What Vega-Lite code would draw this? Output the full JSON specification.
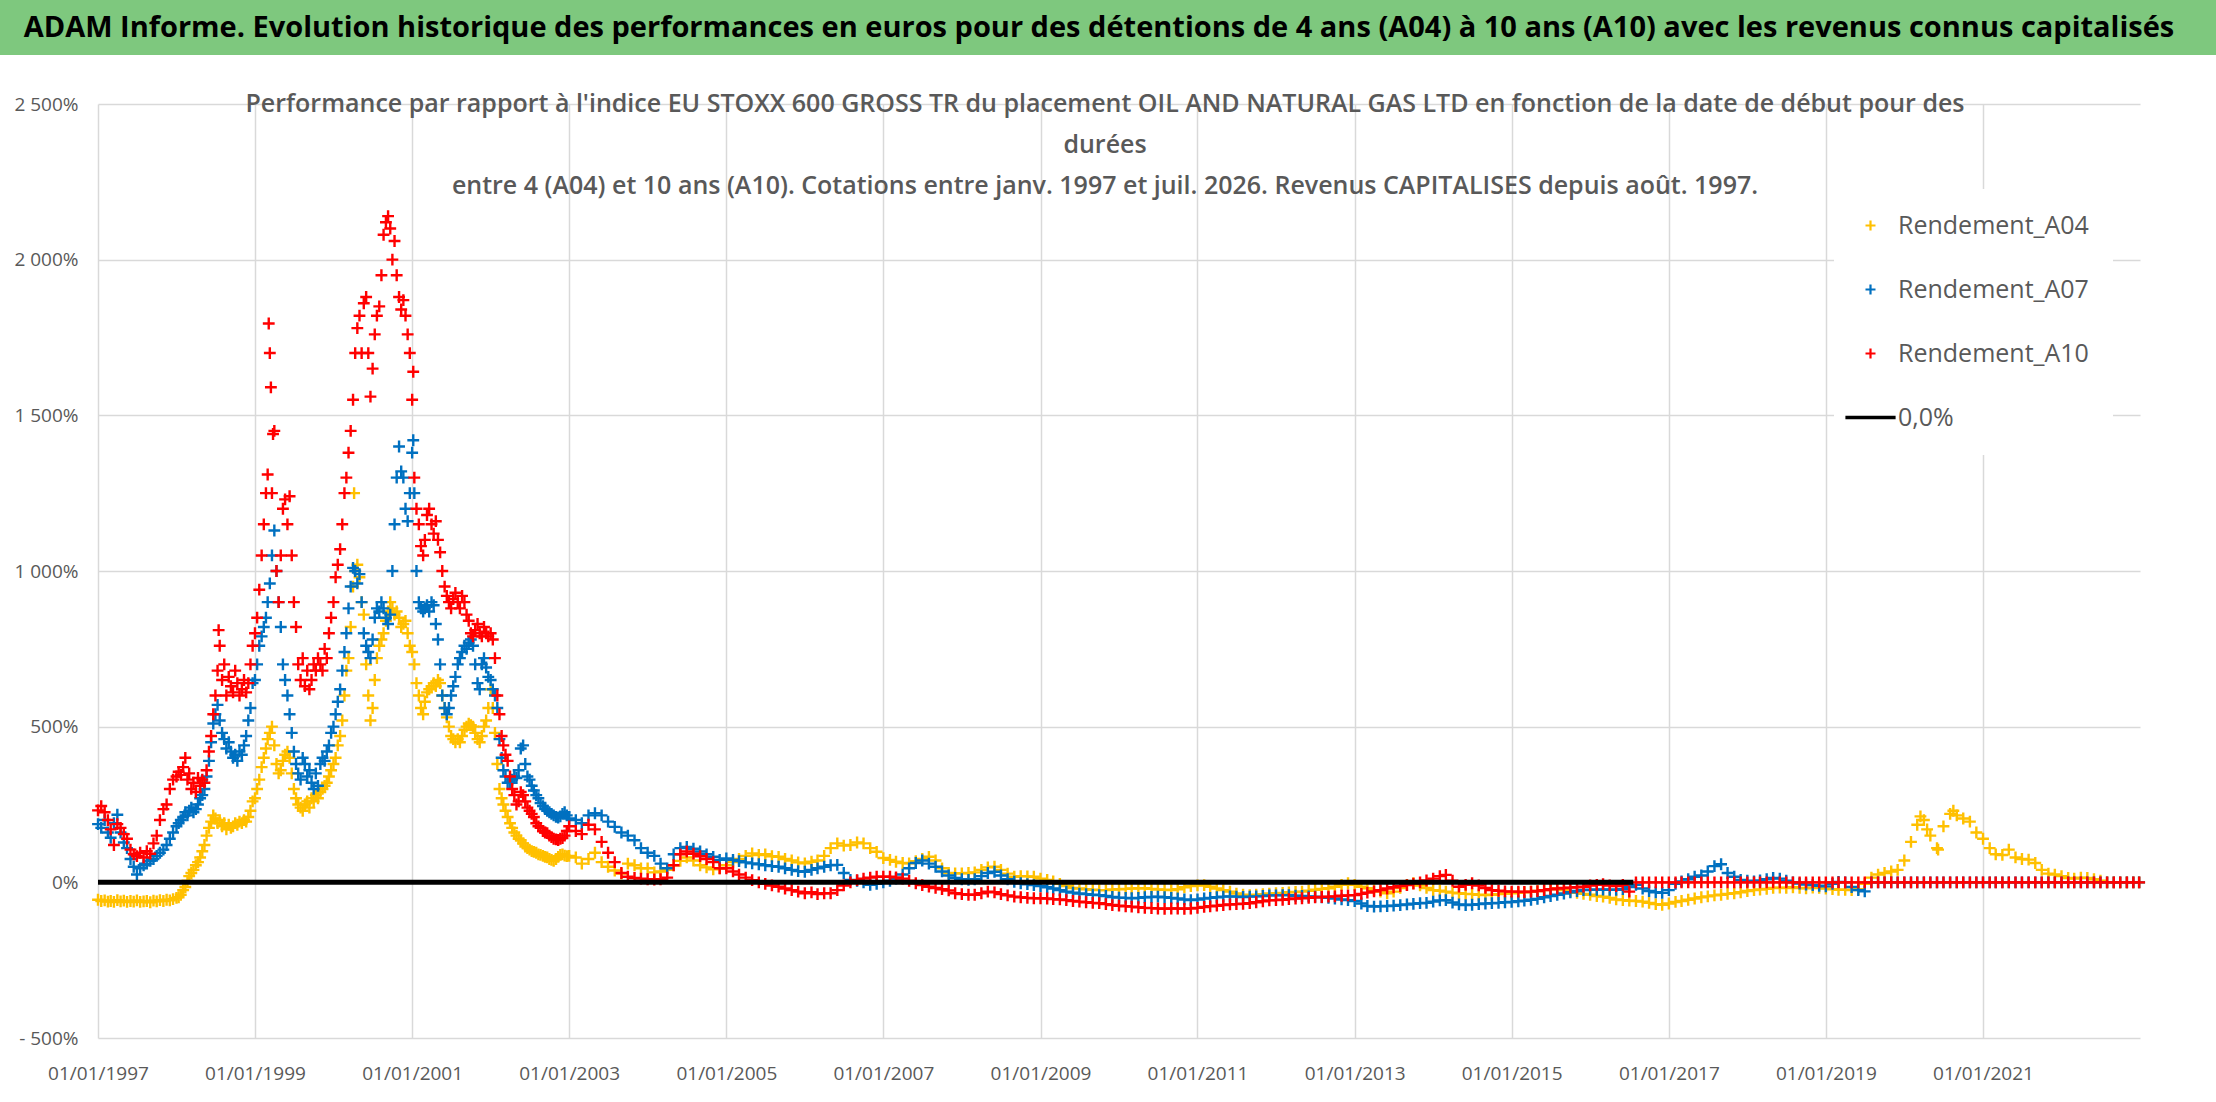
{
  "$schema": "https://vega.github.io/schema/vega-lite/v6.json",
  "padding": {"left": 0, "top": 0, "right": -22, "bottom": 55},
  "background": "white",
  "bounds": "flush",
  "center": true,
  "spacing": 49,
  "config": {"view": {"stroke": null}, "font": "Open Sans"},
  "datasets": {
    "cotations": [
      {"d":"1997-01-01","A04":-56,"A07":187,"A10":231},
      {"d":"1997-01-16","A04":-60,"A07":175,"A10":245},
      {"d":"1997-02-01","A04":-58,"A07":200,"A10":225},
      {"d":"1997-02-16","A04":-62,"A07":160,"A10":200},
      {"d":"1997-03-01","A04":-60,"A07":143,"A10":170},
      {"d":"1997-03-16","A04":-63,"A07":190,"A10":120},
      {"d":"1997-04-01","A04":-57,"A07":217,"A10":187},
      {"d":"1997-04-16","A04":-61,"A07":160,"A10":175},
      {"d":"1997-05-01","A04":-59,"A07":128,"A10":155},
      {"d":"1997-05-16","A04":-63,"A07":110,"A10":140},
      {"d":"1997-06-01","A04":-60,"A07":75,"A10":105},
      {"d":"1997-06-16","A04":-62,"A07":50,"A10":90},
      {"d":"1997-07-01","A04":-58,"A07":25,"A10":84},
      {"d":"1997-07-16","A04":-63,"A07":45,"A10":95},
      {"d":"1997-08-01","A04":-61,"A07":55,"A10":80},
      {"d":"1997-08-16","A04":-60,"A07":60,"A10":100},
      {"d":"1997-09-01","A04":-64,"A07":69,"A10":92},
      {"d":"1997-09-16","A04":-59,"A07":75,"A10":125},
      {"d":"1997-10-01","A04":-61,"A07":85,"A10":150},
      {"d":"1997-10-16","A04":-57,"A07":95,"A10":200},
      {"d":"1997-11-01","A04":-60,"A07":105,"A10":235},
      {"d":"1997-11-16","A04":-56,"A07":120,"A10":250},
      {"d":"1997-12-01","A04":-58,"A07":140,"A10":300},
      {"d":"1997-12-16","A04":-54,"A07":160,"A10":330},
      {"d":"1998-01-01","A04":-50,"A07":180,"A10":340},
      {"d":"1998-01-11","A04":-48,"A07":190,"A10":355},
      {"d":"1998-01-21","A04":-40,"A07":200,"A10":345},
      {"d":"1998-02-01","A04":-25,"A07":210,"A10":370},
      {"d":"1998-02-11","A04":-15,"A07":225,"A10":400},
      {"d":"1998-02-21","A04":5,"A07":215,"A10":330},
      {"d":"1998-03-01","A04":20,"A07":230,"A10":350},
      {"d":"1998-03-11","A04":30,"A07":240,"A10":300},
      {"d":"1998-03-21","A04":40,"A07":225,"A10":320},
      {"d":"1998-04-01","A04":55,"A07":235,"A10":290},
      {"d":"1998-04-11","A04":65,"A07":250,"A10":335},
      {"d":"1998-04-21","A04":80,"A07":270,"A10":310},
      {"d":"1998-05-01","A04":100,"A07":280,"A10":330},
      {"d":"1998-05-11","A04":120,"A07":300,"A10":320},
      {"d":"1998-05-21","A04":150,"A07":340,"A10":360},
      {"d":"1998-06-01","A04":175,"A07":390,"A10":420},
      {"d":"1998-06-11","A04":195,"A07":450,"A10":470},
      {"d":"1998-06-21","A04":215,"A07":510,"A10":540},
      {"d":"1998-07-01","A04":205,"A07":540,"A10":600},
      {"d":"1998-07-11","A04":190,"A07":570,"A10":680},
      {"d":"1998-07-16","A10":810},
      {"d":"1998-07-21","A04":200,"A07":520,"A10":760},
      {"d":"1998-08-01","A04":180,"A07":480,"A10":650},
      {"d":"1998-08-11","A04":190,"A07":460,"A10":700},
      {"d":"1998-08-21","A04":170,"A07":430,"A10":600},
      {"d":"1998-09-01","A04":185,"A07":450,"A10":660},
      {"d":"1998-09-11","A04":175,"A07":420,"A10":630},
      {"d":"1998-09-21","A04":180,"A07":400,"A10":610},
      {"d":"1998-10-01","A04":190,"A07":410,"A10":680},
      {"d":"1998-10-11","A04":185,"A07":390,"A10":640},
      {"d":"1998-10-21","A04":195,"A07":420,"A10":600},
      {"d":"1998-11-01","A04":190,"A07":410,"A10":620},
      {"d":"1998-11-11","A04":200,"A07":440,"A10":650},
      {"d":"1998-11-21","A04":195,"A07":470,"A10":610},
      {"d":"1998-12-01","A04":210,"A07":520,"A10":640},
      {"d":"1998-12-11","A04":230,"A07":560,"A10":700},
      {"d":"1998-12-21","A04":260,"A07":640,"A10":760},
      {"d":"1999-01-01","A04":270,"A07":650,"A10":800},
      {"d":"1999-01-11","A04":300,"A07":700,"A10":850},
      {"d":"1999-01-21","A04":330,"A07":760,"A10":940},
      {"d":"1999-02-01","A04":370,"A07":790,"A10":1050},
      {"d":"1999-02-11","A04":400,"A07":820,"A10":1150},
      {"d":"1999-02-21","A04":430,"A07":850,"A10":1250},
      {"d":"1999-03-01","A04":460,"A07":900,"A10":1310},
      {"d":"1999-03-06","A10":1795},
      {"d":"1999-03-11","A04":480,"A07":960,"A10":1700},
      {"d":"1999-03-16","A10":1590},
      {"d":"1999-03-21","A04":500,"A07":1050,"A10":1250},
      {"d":"1999-03-26","A10":1440},
      {"d":"1999-04-01","A04":440,"A07":1130,"A10":1450},
      {"d":"1999-04-11","A04":380,"A07":1000,"A10":1000},
      {"d":"1999-04-21","A04":350,"A07":900,"A10":900},
      {"d":"1999-05-01","A04":360,"A07":820,"A10":1050},
      {"d":"1999-05-11","A04":390,"A07":700,"A10":1200},
      {"d":"1999-05-21","A04":410,"A07":650,"A10":1230},
      {"d":"1999-06-01","A04":420,"A07":600,"A10":1150},
      {"d":"1999-06-11","A04":400,"A07":540,"A10":1240},
      {"d":"1999-06-21","A04":350,"A07":480,"A10":1050},
      {"d":"1999-07-01","A04":300,"A07":420,"A10":900},
      {"d":"1999-07-11","A04":270,"A07":380,"A10":820},
      {"d":"1999-07-21","A04":250,"A07":350,"A10":700},
      {"d":"1999-08-01","A04":240,"A07":330,"A10":650},
      {"d":"1999-08-11","A04":230,"A07":400,"A10":720},
      {"d":"1999-08-21","A04":250,"A07":380,"A10":630},
      {"d":"1999-09-01","A04":260,"A07":340,"A10":680},
      {"d":"1999-09-11","A04":240,"A07":360,"A10":620},
      {"d":"1999-09-21","A04":270,"A07":320,"A10":650},
      {"d":"1999-10-01","A04":260,"A07":300,"A10":700},
      {"d":"1999-10-11","A04":280,"A07":350,"A10":680},
      {"d":"1999-10-21","A04":270,"A07":310,"A10":720},
      {"d":"1999-11-01","A04":290,"A07":380,"A10":700},
      {"d":"1999-11-11","A04":300,"A07":400,"A10":680},
      {"d":"1999-11-21","A04":310,"A07":390,"A10":750},
      {"d":"1999-12-01","A04":320,"A07":420,"A10":720},
      {"d":"1999-12-11","A04":340,"A07":440,"A10":800},
      {"d":"1999-12-21","A04":360,"A07":480,"A10":850},
      {"d":"2000-01-01","A04":380,"A07":500,"A10":900},
      {"d":"2000-01-11","A04":400,"A07":540,"A10":980},
      {"d":"2000-01-21","A04":440,"A07":580,"A10":1020},
      {"d":"2000-02-01","A04":470,"A07":620,"A10":1070},
      {"d":"2000-02-11","A04":520,"A07":680,"A10":1150},
      {"d":"2000-02-21","A04":600,"A07":740,"A10":1250},
      {"d":"2000-03-01","A04":680,"A07":800,"A10":1300},
      {"d":"2000-03-11","A04":720,"A07":880,"A10":1380},
      {"d":"2000-03-21","A04":820,"A07":950,"A10":1450},
      {"d":"2000-04-01","A04":950,"A07":1010,"A10":1550},
      {"d":"2000-04-06","A04":1250},
      {"d":"2000-04-11","A04":1000,"A07":1000,"A10":1700},
      {"d":"2000-04-21","A04":1020,"A07":960,"A10":1780},
      {"d":"2000-05-01","A04":980,"A07":990,"A10":1820},
      {"d":"2000-05-11","A04":900,"A07":900,"A10":1700},
      {"d":"2000-05-21","A04":860,"A07":800,"A10":1860},
      {"d":"2000-06-01","A04":700,"A07":760,"A10":1880},
      {"d":"2000-06-11","A04":600,"A07":740,"A10":1700},
      {"d":"2000-06-21","A04":520,"A07":720,"A10":1560},
      {"d":"2000-07-01","A04":560,"A07":780,"A10":1650},
      {"d":"2000-07-11","A04":650,"A07":850,"A10":1760},
      {"d":"2000-07-21","A04":720,"A07":880,"A10":1820},
      {"d":"2000-08-01","A04":760,"A07":870,"A10":1850},
      {"d":"2000-08-11","A04":780,"A07":900,"A10":1950},
      {"d":"2000-08-21","A04":800,"A07":880,"A10":2080},
      {"d":"2000-09-01","A04":840,"A07":850,"A10":2120},
      {"d":"2000-09-11","A04":870,"A07":830,"A10":2140},
      {"d":"2000-09-21","A04":900,"A07":860,"A10":2100},
      {"d":"2000-10-01","A04":880,"A07":1000,"A10":2000},
      {"d":"2000-10-11","A04":860,"A07":1150,"A10":2060},
      {"d":"2000-10-21","A04":870,"A07":1300,"A10":1950},
      {"d":"2000-11-01","A04":850,"A07":1400,"A10":1880},
      {"d":"2000-11-11","A04":820,"A07":1320,"A10":1840},
      {"d":"2000-11-21","A04":830,"A07":1300,"A10":1870},
      {"d":"2000-12-01","A04":840,"A07":1200,"A10":1820},
      {"d":"2000-12-11","A04":800,"A07":1160,"A10":1760},
      {"d":"2000-12-21","A04":760,"A07":1250,"A10":1700},
      {"d":"2001-01-01","A04":740,"A07":1380,"A10":1550},
      {"d":"2001-01-06","A07":1420,"A10":1640},
      {"d":"2001-01-11","A04":700,"A07":1250,"A10":1300},
      {"d":"2001-01-21","A04":640,"A07":1000,"A10":1200},
      {"d":"2001-02-01","A04":600,"A07":900,"A10":1150},
      {"d":"2001-02-11","A04":560,"A07":880,"A10":1080},
      {"d":"2001-02-21","A04":540,"A07":870,"A10":1050},
      {"d":"2001-03-01","A04":580,"A07":880,"A10":1100},
      {"d":"2001-03-11","A04":610,"A07":890,"A10":1180},
      {"d":"2001-03-21","A04":620,"A07":870,"A10":1200},
      {"d":"2001-04-01","A04":630,"A07":900,"A10":1150},
      {"d":"2001-04-11","A04":640,"A07":890,"A10":1120},
      {"d":"2001-04-21","A04":630,"A07":830,"A10":1160},
      {"d":"2001-05-01","A04":650,"A07":780,"A10":1100},
      {"d":"2001-05-11","A04":640,"A07":700,"A10":1060},
      {"d":"2001-05-21","A04":600,"A07":600,"A10":1000},
      {"d":"2001-06-01","A04":560,"A07":560,"A10":950},
      {"d":"2001-06-11","A04":530,"A07":540,"A10":920},
      {"d":"2001-06-21","A04":500,"A07":560,"A10":900},
      {"d":"2001-07-01","A04":470,"A07":600,"A10":880},
      {"d":"2001-07-11","A04":460,"A07":630,"A10":910},
      {"d":"2001-07-21","A04":450,"A07":660,"A10":930},
      {"d":"2001-08-01","A04":460,"A07":700,"A10":900},
      {"d":"2001-08-11","A04":450,"A07":720,"A10":880},
      {"d":"2001-08-21","A04":470,"A07":740,"A10":920},
      {"d":"2001-09-01","A04":490,"A07":760,"A10":900},
      {"d":"2001-09-11","A04":500,"A07":750,"A10":860},
      {"d":"2001-09-21","A04":510,"A07":770,"A10":840},
      {"d":"2001-10-01","A04":505,"A07":780,"A10":800},
      {"d":"2001-10-11","A04":500,"A07":760,"A10":790},
      {"d":"2001-10-21","A04":480,"A07":700,"A10":810},
      {"d":"2001-11-01","A04":460,"A07":640,"A10":830},
      {"d":"2001-11-11","A04":450,"A07":620,"A10":800},
      {"d":"2001-11-21","A04":470,"A07":700,"A10":790},
      {"d":"2001-12-01","A04":500,"A07":720,"A10":820},
      {"d":"2001-12-11","A04":520,"A07":690,"A10":800},
      {"d":"2001-12-21","A04":560,"A07":660,"A10":790},
      {"d":"2002-01-01","A04":620,"A07":650,"A10":800},
      {"d":"2002-01-11","A04":560,"A07":620,"A10":780},
      {"d":"2002-01-21","A04":480,"A07":600,"A10":720},
      {"d":"2002-02-01","A04":380,"A07":560,"A10":600},
      {"d":"2002-02-11","A04":300,"A07":460,"A10":540},
      {"d":"2002-02-21","A04":270,"A07":400,"A10":470},
      {"d":"2002-03-01","A04":250,"A07":360,"A10":440},
      {"d":"2002-03-11","A04":230,"A07":340,"A10":410},
      {"d":"2002-03-21","A04":210,"A07":320,"A10":390},
      {"d":"2002-04-01","A04":190,"A07":320,"A10":340},
      {"d":"2002-04-11","A04":175,"A07":330,"A10":300},
      {"d":"2002-04-21","A04":160,"A07":340,"A10":280},
      {"d":"2002-05-01","A04":150,"A07":335,"A10":250},
      {"d":"2002-05-11","A04":140,"A07":360,"A10":260},
      {"d":"2002-05-21","A04":135,"A07":430,"A10":290},
      {"d":"2002-06-01","A04":125,"A07":440,"A10":280},
      {"d":"2002-06-11","A04":115,"A07":380,"A10":260},
      {"d":"2002-06-21","A04":110,"A07":340,"A10":240},
      {"d":"2002-07-01","A04":105,"A07":330,"A10":230},
      {"d":"2002-07-11","A04":100,"A07":310,"A10":220},
      {"d":"2002-07-21","A04":98,"A07":295,"A10":210},
      {"d":"2002-08-01","A04":95,"A07":280,"A10":190},
      {"d":"2002-08-11","A04":90,"A07":270,"A10":180},
      {"d":"2002-08-21","A04":88,"A07":255,"A10":175},
      {"d":"2002-09-01","A04":85,"A07":245,"A10":165},
      {"d":"2002-09-11","A04":82,"A07":235,"A10":160},
      {"d":"2002-09-21","A04":80,"A07":230,"A10":158},
      {"d":"2002-10-01","A04":75,"A07":225,"A10":150},
      {"d":"2002-10-11","A04":72,"A07":220,"A10":145},
      {"d":"2002-10-21","A04":69,"A07":215,"A10":140},
      {"d":"2002-11-01","A04":75,"A07":210,"A10":138},
      {"d":"2002-11-11","A04":82,"A07":208,"A10":136},
      {"d":"2002-11-21","A04":88,"A07":212,"A10":140},
      {"d":"2002-12-01","A04":90,"A07":220,"A10":142},
      {"d":"2002-12-11","A04":86,"A07":225,"A10":150},
      {"d":"2002-12-21","A04":84,"A07":215,"A10":165},
      {"d":"2003-01-01","A04":85,"A07":205,"A10":180},
      {"d":"2003-02-01","A04":80,"A07":200,"A10":165},
      {"d":"2003-03-01","A04":60,"A07":190,"A10":155},
      {"d":"2003-04-01","A04":75,"A07":215,"A10":185},
      {"d":"2003-05-01","A04":95,"A07":222,"A10":170},
      {"d":"2003-06-01","A04":65,"A07":215,"A10":130},
      {"d":"2003-07-01","A04":50,"A07":195,"A10":95},
      {"d":"2003-08-01","A04":38,"A07":178,"A10":65},
      {"d":"2003-09-01","A04":28,"A07":160,"A10":30},
      {"d":"2003-10-01","A04":60,"A07":150,"A10":18},
      {"d":"2003-11-01","A04":55,"A07":135,"A10":14},
      {"d":"2003-12-01","A04":45,"A07":110,"A10":12},
      {"d":"2004-01-01","A04":45,"A07":95,"A10":10},
      {"d":"2004-02-01","A04":32,"A07":85,"A10":9},
      {"d":"2004-03-01","A04":35,"A07":60,"A10":10},
      {"d":"2004-04-01","A04":40,"A07":45,"A10":15},
      {"d":"2004-05-01","A04":55,"A07":90,"A10":55},
      {"d":"2004-06-01","A04":69,"A07":110,"A10":90},
      {"d":"2004-07-01","A04":80,"A07":114,"A10":99},
      {"d":"2004-08-01","A04":70,"A07":108,"A10":92},
      {"d":"2004-09-01","A04":55,"A07":99,"A10":84},
      {"d":"2004-10-01","A04":48,"A07":90,"A10":75},
      {"d":"2004-11-01","A04":42,"A07":82,"A10":65},
      {"d":"2004-12-01","A04":45,"A07":72,"A10":45},
      {"d":"2005-01-01","A04":55,"A07":77,"A10":45},
      {"d":"2005-02-01","A04":65,"A07":72,"A10":35},
      {"d":"2005-03-01","A04":75,"A07":68,"A10":25},
      {"d":"2005-04-01","A04":85,"A07":64,"A10":15},
      {"d":"2005-05-01","A04":93,"A07":61,"A10":7},
      {"d":"2005-06-01","A04":88,"A07":58,"A10":0},
      {"d":"2005-07-01","A04":90,"A07":55,"A10":-5},
      {"d":"2005-08-01","A04":84,"A07":52,"A10":-10},
      {"d":"2005-09-01","A04":82,"A07":50,"A10":-14},
      {"d":"2005-10-01","A04":75,"A07":45,"A10":-20},
      {"d":"2005-11-01","A04":70,"A07":40,"A10":-25},
      {"d":"2005-12-01","A04":64,"A07":36,"A10":-30},
      {"d":"2006-01-01","A04":61,"A07":34,"A10":-35},
      {"d":"2006-02-01","A04":66,"A07":40,"A10":-32},
      {"d":"2006-03-01","A04":70,"A07":45,"A10":-38},
      {"d":"2006-04-01","A04":85,"A07":50,"A10":-35},
      {"d":"2006-05-01","A04":110,"A07":55,"A10":-35},
      {"d":"2006-06-01","A04":125,"A07":56,"A10":-25},
      {"d":"2006-07-01","A04":118,"A07":30,"A10":-10},
      {"d":"2006-08-01","A04":120,"A07":8,"A10":0},
      {"d":"2006-09-01","A04":128,"A07":5,"A10":7},
      {"d":"2006-10-01","A04":125,"A07":0,"A10":12},
      {"d":"2006-11-01","A04":110,"A07":-8,"A10":15},
      {"d":"2006-12-01","A04":98,"A07":-5,"A10":18},
      {"d":"2007-01-01","A04":78,"A07":0,"A10":18},
      {"d":"2007-02-01","A04":72,"A07":5,"A10":18},
      {"d":"2007-03-01","A04":66,"A07":12,"A10":16},
      {"d":"2007-04-01","A04":62,"A07":25,"A10":12},
      {"d":"2007-05-01","A04":61,"A07":45,"A10":5},
      {"d":"2007-06-01","A04":68,"A07":62,"A10":-3},
      {"d":"2007-07-01","A04":75,"A07":70,"A10":-9},
      {"d":"2007-08-01","A04":82,"A07":60,"A10":-14},
      {"d":"2007-09-01","A04":70,"A07":50,"A10":-18},
      {"d":"2007-10-01","A04":45,"A07":35,"A10":-22},
      {"d":"2007-11-01","A04":30,"A07":22,"A10":-26},
      {"d":"2007-12-01","A04":29,"A07":14,"A10":-35},
      {"d":"2008-01-01","A04":29,"A07":10,"A10":-38},
      {"d":"2008-02-01","A04":30,"A07":8,"A10":-40},
      {"d":"2008-03-01","A04":32,"A07":10,"A10":-40},
      {"d":"2008-04-01","A04":40,"A07":20,"A10":-35},
      {"d":"2008-05-01","A04":48,"A07":30,"A10":-30},
      {"d":"2008-06-01","A04":50,"A07":34,"A10":-32},
      {"d":"2008-07-01","A04":40,"A07":22,"A10":-38},
      {"d":"2008-08-01","A04":28,"A07":10,"A10":-42},
      {"d":"2008-09-01","A04":18,"A07":2,"A10":-46},
      {"d":"2008-10-01","A04":20,"A07":-3,"A10":-48},
      {"d":"2008-11-01","A04":19,"A07":-6,"A10":-50},
      {"d":"2008-12-01","A04":18,"A07":-9,"A10":-51},
      {"d":"2009-01-01","A04":12,"A07":-12,"A10":-51},
      {"d":"2009-02-01","A04":8,"A07":-16,"A10":-52},
      {"d":"2009-03-01","A04":3,"A07":-20,"A10":-54},
      {"d":"2009-04-01","A04":-5,"A07":-25,"A10":-55},
      {"d":"2009-05-01","A04":-12,"A07":-30,"A10":-57},
      {"d":"2009-06-01","A04":-18,"A07":-33,"A10":-60},
      {"d":"2009-07-01","A04":-20,"A07":-36,"A10":-62},
      {"d":"2009-08-01","A04":-22,"A07":-38,"A10":-64},
      {"d":"2009-09-01","A04":-24,"A07":-40,"A10":-66},
      {"d":"2009-10-01","A04":-25,"A07":-41,"A10":-67},
      {"d":"2009-11-01","A04":-25,"A07":-44,"A10":-70},
      {"d":"2009-12-01","A04":-23,"A07":-47,"A10":-73},
      {"d":"2010-01-01","A04":-22,"A07":-49,"A10":-75},
      {"d":"2010-02-01","A04":-21,"A07":-50,"A10":-77},
      {"d":"2010-03-01","A04":-20,"A07":-51,"A10":-78},
      {"d":"2010-04-01","A04":-19,"A07":-50,"A10":-80},
      {"d":"2010-05-01","A04":-19,"A07":-48,"A10":-82},
      {"d":"2010-06-01","A04":-21,"A07":-47,"A10":-83},
      {"d":"2010-07-01","A04":-23,"A07":-46,"A10":-84},
      {"d":"2010-08-01","A04":-24,"A07":-48,"A10":-85},
      {"d":"2010-09-01","A04":-25,"A07":-50,"A10":-84},
      {"d":"2010-10-01","A04":-22,"A07":-52,"A10":-84},
      {"d":"2010-11-01","A04":-16,"A07":-55,"A10":-85},
      {"d":"2010-12-01","A04":-12,"A07":-57,"A10":-84},
      {"d":"2011-01-01","A04":-10,"A07":-55,"A10":-82},
      {"d":"2011-02-01","A04":-9,"A07":-52,"A10":-79},
      {"d":"2011-03-01","A04":-14,"A07":-50,"A10":-77},
      {"d":"2011-04-01","A04":-20,"A07":-48,"A10":-75},
      {"d":"2011-05-01","A04":-25,"A07":-46,"A10":-73},
      {"d":"2011-06-01","A04":-30,"A07":-45,"A10":-71},
      {"d":"2011-07-01","A04":-36,"A07":-46,"A10":-70},
      {"d":"2011-08-01","A04":-40,"A07":-47,"A10":-69},
      {"d":"2011-09-01","A04":-41,"A07":-46,"A10":-67},
      {"d":"2011-10-01","A04":-40,"A07":-45,"A10":-64},
      {"d":"2011-11-01","A04":-38,"A07":-44,"A10":-61},
      {"d":"2011-12-01","A04":-36,"A07":-42,"A10":-58},
      {"d":"2012-01-01","A04":-35,"A07":-42,"A10":-57},
      {"d":"2012-02-01","A04":-34,"A07":-41,"A10":-56},
      {"d":"2012-03-01","A04":-32,"A07":-41,"A10":-54},
      {"d":"2012-04-01","A04":-31,"A07":-43,"A10":-52},
      {"d":"2012-05-01","A04":-30,"A07":-44,"A10":-51},
      {"d":"2012-06-01","A04":-27,"A07":-45,"A10":-50},
      {"d":"2012-07-01","A04":-24,"A07":-46,"A10":-48},
      {"d":"2012-08-01","A04":-21,"A07":-48,"A10":-47},
      {"d":"2012-09-01","A04":-19,"A07":-50,"A10":-46},
      {"d":"2012-10-01","A04":-14,"A07":-52,"A10":-45},
      {"d":"2012-11-01","A04":-8,"A07":-55,"A10":-43},
      {"d":"2012-12-01","A04":-3,"A07":-57,"A10":-42},
      {"d":"2013-01-01","A04":-8,"A07":-60,"A10":-41},
      {"d":"2013-02-01","A04":-14,"A07":-68,"A10":-37},
      {"d":"2013-03-01","A04":-19,"A07":-76,"A10":-33},
      {"d":"2013-04-01","A04":-25,"A07":-78,"A10":-29},
      {"d":"2013-05-01","A04":-30,"A07":-77,"A10":-25},
      {"d":"2013-06-01","A04":-35,"A07":-76,"A10":-20},
      {"d":"2013-07-01","A04":-30,"A07":-75,"A10":-16},
      {"d":"2013-08-01","A04":-18,"A07":-73,"A10":-12},
      {"d":"2013-09-01","A04":-8,"A07":-71,"A10":-9},
      {"d":"2013-10-01","A04":-3,"A07":-69,"A10":-4},
      {"d":"2013-11-01","A04":-10,"A07":-67,"A10":0},
      {"d":"2013-12-01","A04":-18,"A07":-66,"A10":6},
      {"d":"2014-01-01","A04":-25,"A07":-62,"A10":12},
      {"d":"2014-02-01","A04":-27,"A07":-58,"A10":20},
      {"d":"2014-03-01","A04":-30,"A07":-57,"A10":24},
      {"d":"2014-04-01","A04":-33,"A07":-65,"A10":5},
      {"d":"2014-05-01","A04":-35,"A07":-71,"A10":-14},
      {"d":"2014-06-01","A04":-37,"A07":-73,"A10":-8},
      {"d":"2014-07-01","A04":-38,"A07":-72,"A10":-3},
      {"d":"2014-08-01","A04":-40,"A07":-70,"A10":-10},
      {"d":"2014-09-01","A04":-41,"A07":-68,"A10":-18},
      {"d":"2014-10-01","A04":-40,"A07":-67,"A10":-25},
      {"d":"2014-11-01","A04":-38,"A07":-66,"A10":-27},
      {"d":"2014-12-01","A04":-36,"A07":-64,"A10":-29},
      {"d":"2015-01-01","A04":-35,"A07":-63,"A10":-30},
      {"d":"2015-02-01","A04":-34,"A07":-61,"A10":-30},
      {"d":"2015-03-01","A04":-32,"A07":-59,"A10":-31},
      {"d":"2015-04-01","A04":-30,"A07":-56,"A10":-30},
      {"d":"2015-05-01","A04":-28,"A07":-53,"A10":-28},
      {"d":"2015-06-01","A04":-25,"A07":-48,"A10":-25},
      {"d":"2015-07-01","A04":-22,"A07":-44,"A10":-22},
      {"d":"2015-08-01","A04":-20,"A07":-40,"A10":-20},
      {"d":"2015-09-01","A04":-25,"A07":-36,"A10":-18},
      {"d":"2015-10-01","A04":-30,"A07":-32,"A10":-17},
      {"d":"2015-11-01","A04":-34,"A07":-28,"A10":-16},
      {"d":"2015-12-01","A04":-37,"A07":-25,"A10":-14},
      {"d":"2016-01-01","A04":-40,"A07":-24,"A10":-10},
      {"d":"2016-02-01","A04":-44,"A07":-24,"A10":-8},
      {"d":"2016-03-01","A04":-46,"A07":-23,"A10":-6},
      {"d":"2016-04-01","A04":-50,"A07":-24,"A10":-10},
      {"d":"2016-05-01","A04":-55,"A07":-24,"A10":-12},
      {"d":"2016-06-01","A04":-57,"A07":-22,"A10":-8},
      {"d":"2016-07-01","A04":-59,"A07":-15,"A10":-30},
      {"d":"2016-08-01","A04":-60,"A07":-8,"A10":0},
      {"d":"2016-09-01","A04":-62,"A07":-20,"A10":0},
      {"d":"2016-10-01","A04":-66,"A07":-28,"A10":0},
      {"d":"2016-11-01","A04":-70,"A07":-32,"A10":0},
      {"d":"2016-12-01","A04":-72,"A07":-34,"A10":0},
      {"d":"2017-01-01","A04":-68,"A07":-25,"A10":0},
      {"d":"2017-02-01","A04":-63,"A07":-5,"A10":0},
      {"d":"2017-03-01","A04":-60,"A07":3,"A10":0},
      {"d":"2017-04-01","A04":-56,"A07":10,"A10":0},
      {"d":"2017-05-01","A04":-52,"A07":18,"A10":0},
      {"d":"2017-06-01","A04":-48,"A07":22,"A10":0},
      {"d":"2017-07-01","A04":-45,"A07":35,"A10":0},
      {"d":"2017-08-01","A04":-42,"A07":52,"A10":0},
      {"d":"2017-09-01","A04":-40,"A07":58,"A10":0},
      {"d":"2017-10-01","A04":-37,"A07":30,"A10":0},
      {"d":"2017-11-01","A04":-35,"A07":18,"A10":0},
      {"d":"2017-12-01","A04":-32,"A07":8,"A10":0},
      {"d":"2018-01-01","A04":-28,"A07":5,"A10":0},
      {"d":"2018-02-01","A04":-25,"A07":3,"A10":0},
      {"d":"2018-03-01","A04":-23,"A07":6,"A10":0},
      {"d":"2018-04-01","A04":-21,"A07":10,"A10":0},
      {"d":"2018-05-01","A04":-18,"A07":14,"A10":0},
      {"d":"2018-06-01","A04":-17,"A07":12,"A10":0},
      {"d":"2018-07-01","A04":-18,"A07":5,"A10":0},
      {"d":"2018-08-01","A04":-16,"A07":0,"A10":0},
      {"d":"2018-09-01","A04":-18,"A07":-4,"A10":0},
      {"d":"2018-10-01","A04":-19,"A07":-7,"A10":0},
      {"d":"2018-11-01","A04":-17,"A07":-9,"A10":0},
      {"d":"2018-12-01","A04":-18,"A07":-11,"A10":0},
      {"d":"2019-01-01","A04":-20,"A07":-13,"A10":0},
      {"d":"2019-02-01","A04":-22,"A07":-5,"A10":0},
      {"d":"2019-03-01","A04":-24,"A07":1,"A10":0},
      {"d":"2019-04-01","A04":-24,"A07":0,"A10":0},
      {"d":"2019-05-01","A04":-25,"A07":-15,"A10":0},
      {"d":"2019-06-01","A04":-22,"A07":-25,"A10":0},
      {"d":"2019-07-01","A04":-5,"A07":-29,"A10":0},
      {"d":"2019-08-01","A04":15,"A07":0,"A10":0},
      {"d":"2019-09-01","A04":25,"A07":0,"A10":0},
      {"d":"2019-10-01","A04":30,"A07":0,"A10":0},
      {"d":"2019-11-01","A04":35,"A07":0,"A10":0},
      {"d":"2019-12-01","A04":40,"A07":0,"A10":0},
      {"d":"2020-01-01","A04":70,"A07":0,"A10":0},
      {"d":"2020-02-01","A04":130,"A07":0,"A10":0},
      {"d":"2020-03-01","A04":185,"A07":0,"A10":0},
      {"d":"2020-03-16","A04":212},
      {"d":"2020-04-01","A04":200,"A07":0,"A10":0},
      {"d":"2020-04-16","A04":170},
      {"d":"2020-05-01","A04":150,"A07":0,"A10":0},
      {"d":"2020-06-01","A04":110,"A07":0,"A10":0},
      {"d":"2020-06-06","A04":105},
      {"d":"2020-07-01","A04":180,"A07":0,"A10":0},
      {"d":"2020-08-01","A04":220,"A07":0,"A10":0},
      {"d":"2020-08-16","A04":230},
      {"d":"2020-09-01","A04":215,"A07":0,"A10":0},
      {"d":"2020-10-01","A04":205,"A07":0,"A10":0},
      {"d":"2020-11-01","A04":195,"A07":0,"A10":0},
      {"d":"2020-12-01","A04":160,"A07":0,"A10":0},
      {"d":"2021-01-01","A04":140,"A07":0,"A10":0},
      {"d":"2021-02-01","A04":110,"A07":0,"A10":0},
      {"d":"2021-03-01","A04":90,"A07":0,"A10":0},
      {"d":"2021-04-01","A04":88,"A07":0,"A10":0},
      {"d":"2021-05-01","A04":105,"A07":0,"A10":0},
      {"d":"2021-06-01","A04":80,"A07":0,"A10":0},
      {"d":"2021-07-01","A04":75,"A07":0,"A10":0},
      {"d":"2021-08-01","A04":73,"A07":0,"A10":0},
      {"d":"2021-09-01","A04":62,"A07":0,"A10":0},
      {"d":"2021-10-01","A04":40,"A07":0,"A10":0},
      {"d":"2021-11-01","A04":28,"A07":0,"A10":0},
      {"d":"2021-12-01","A04":25,"A07":0,"A10":0},
      {"d":"2022-01-01","A04":20,"A07":0,"A10":0},
      {"d":"2022-02-01","A04":14,"A07":0,"A10":0},
      {"d":"2022-03-01","A04":12,"A07":0,"A10":0},
      {"d":"2022-04-01","A04":15,"A07":0,"A10":0},
      {"d":"2022-05-01","A04":14,"A07":0,"A10":0},
      {"d":"2022-06-01","A04":10,"A07":0,"A10":0},
      {"d":"2022-07-01","A04":5,"A07":0,"A10":0},
      {"d":"2022-08-01","A04":0,"A07":0,"A10":0},
      {"d":"2022-09-01","A04":0,"A07":0,"A10":0},
      {"d":"2022-10-01","A04":0,"A07":0,"A10":0},
      {"d":"2022-11-01","A04":0,"A07":0,"A10":0},
      {"d":"2022-12-01","A04":0,"A07":0,"A10":0},
      {"d":"2022-12-28","A04":0,"A07":0,"A10":0}
    ],
    "zero": [
      {"d":"1997-01-01","serie":"0,0%","valeur":0},
      {"d":"2016-07-20","serie":"0,0%","valeur":0}
    ]
  },
  "vconcat": [
    {
      "width": 2238,
      "height": 55,
      "view": {"fill": "#7ec87e", "stroke": null},
      "data": {"values": [{"texte": "ADAM Informe. Evolution historique des performances en euros pour des détentions de 4 ans (A04) à 10 ans (A10) avec les revenus connus capitalisés"}]},
      "mark": {"type": "text", "font": "Open Sans", "fontWeight": "bold", "fontSize": 29, "color": "#000000", "dx": -20},
      "encoding": {"text": {"field": "texte"}}
    },
    {
      "width": 2042,
      "height": 934,
      "title": {
        "text": [
          "Performance par rapport à l'indice EU STOXX 600 GROSS TR  du placement OIL AND NATURAL GAS LTD en fonction de la date de début pour des",
          "durées",
          "entre 4 (A04) et 10 ans (A10). Cotations entre janv. 1997 et juil. 2026. Revenus CAPITALISES depuis août. 1997.\u00a0\u00a0\u00a0\u00a0\u00a0\u00a0\u00a0\u00a0\u00a0\u00a0\u00a0\u00a0\u00a0\u00a0\u00a0\u00a0\u00a0\u00a0"
        ],
        "anchor": "middle",
        "frame": "group",
        "offset": -104,
        "dx": -14,
        "font": "Open Sans",
        "fontSize": 25,
        "fontWeight": 600,
        "color": "#595959",
        "lineHeight": 41
      },
      "encoding": {
        "x": {
          "field": "d",
          "type": "temporal",
          "title": null,
          "scale": {
            "type": "utc",
            "domain": [
              {"year": 1997, "month": 1, "date": 1, "utc": true},
              {"year": 2023, "month": 1, "date": 1, "utc": true}
            ]
          },
          "axis": {
            "values": [
              {"year": 1997, "month": 1, "date": 1, "utc": true},
              {"year": 1999, "month": 1, "date": 1, "utc": true},
              {"year": 2001, "month": 1, "date": 1, "utc": true},
              {"year": 2003, "month": 1, "date": 1, "utc": true},
              {"year": 2005, "month": 1, "date": 1, "utc": true},
              {"year": 2007, "month": 1, "date": 1, "utc": true},
              {"year": 2009, "month": 1, "date": 1, "utc": true},
              {"year": 2011, "month": 1, "date": 1, "utc": true},
              {"year": 2013, "month": 1, "date": 1, "utc": true},
              {"year": 2015, "month": 1, "date": 1, "utc": true},
              {"year": 2017, "month": 1, "date": 1, "utc": true},
              {"year": 2019, "month": 1, "date": 1, "utc": true},
              {"year": 2021, "month": 1, "date": 1, "utc": true}
            ],
            "labelExpr": "utcFormat(datum.value, '%d/%m/%Y')",
            "grid": true,
            "gridColor": "#d9d9d9",
            "gridWidth": 1.5,
            "domain": false,
            "ticks": false,
            "labelFlush": false,
            "labelPadding": 26,
            "labelFont": "Open Sans",
            "labelFontSize": 19,
            "labelColor": "#595959"
          }
        },
        "y": {
          "field": "valeur",
          "type": "quantitative",
          "title": null,
          "scale": {"domain": [-500, 2500], "nice": false, "zero": false},
          "axis": {
            "values": [-500, 0, 500, 1000, 1500, 2000, 2500],
            "labelExpr": "datum.value == 0 ? '0%' : (datum.value < 0 ? '- ' : '') + replace(format(abs(datum.value), ','), ',', ' ') + '%'",
            "grid": true,
            "gridColor": "#d9d9d9",
            "gridWidth": 1.5,
            "domain": false,
            "ticks": false,
            "labelPadding": 20,
            "labelFont": "Open Sans",
            "labelFontSize": 19,
            "labelColor": "#595959"
          }
        }
      },
      "layer": [
        {
          "mark": {"type": "rule", "color": "#d9d9d9", "strokeWidth": 1.5},
          "encoding": {"y": {"datum": -165}, "x": null}
        },
        {
          "data": {"name": "cotations"},
          "transform": [
            {"fold": ["A04", "A07", "A10"], "as": ["serie", "valeur"]}
          ],
          "mark": {
            "type": "point",
            "filled": false,
            "strokeWidth": 2.4,
            "size": 140,
            "opacity": 1
          },
          "encoding": {
            "color": {
              "field": "serie",
              "type": "nominal",
              "scale": {
                "domain": ["A04", "A07", "A10", "0,0%"],
                "range": ["#FFC000", "#0070C0", "#FF0000", "#000000"]
              },
              "legend": {
                "orient": "none",
                "legendX": 1834,
                "legendY": 189,
                "title": null,
                "fillColor": "white",
                "padding": 24,
                "rowPadding": 38,
                "labelOffset": 15,
                "labelLimit": 400,
                "labelFont": "Open Sans",
                "labelFontSize": 25,
                "labelColor": "#595959",
                "symbolSize": 100,
                "symbolStrokeWidth": 2.2,
                "labelExpr": "datum.label == '0,0%' ? '0,0%' : 'Rendement_' + datum.label"
              }
            },
            "shape": {
              "field": "serie",
              "type": "nominal",
              "scale": {
                "domain": ["A04", "A07", "A10", "0,0%"],
                "range": ["M-1,0H1M0,-1V1", "M-1,0H1M0,-1V1", "M-1,0H1M0,-1V1", "M-4.8,-0.15H4.8V0.15H-4.8Z"]
              },
              "legend": {
                "orient": "none",
                "legendX": 1834,
                "legendY": 189,
                "title": null,
                "fillColor": "white",
                "padding": 24,
                "rowPadding": 38,
                "labelOffset": 15,
                "labelLimit": 400,
                "labelFont": "Open Sans",
                "labelFontSize": 25,
                "labelColor": "#595959",
                "symbolSize": 100,
                "symbolStrokeWidth": 2.2,
                "labelExpr": "datum.label == '0,0%' ? '0,0%' : 'Rendement_' + datum.label"
              }
            },
            "order": {"field": "serie", "sort": "ascending"}
          }
        },
        {
          "data": {"name": "zero"},
          "mark": {"type": "line", "strokeWidth": 5},
          "encoding": {
            "color": {"field": "serie", "type": "nominal"}
          }
        },
        {
          "mark": {"type": "rect", "color": "white", "clip": false},
          "encoding": {
            "x": {"datum": {"year": 1998, "month": 11, "date": 16, "utc": true}},
            "x2": {"datum": {"year": 2020, "month": 10, "date": 12, "utc": true}},
            "y": {"datum": 2155},
            "y2": {"datum": 2545}
          }
        }
      ]
    }
  ]
}
